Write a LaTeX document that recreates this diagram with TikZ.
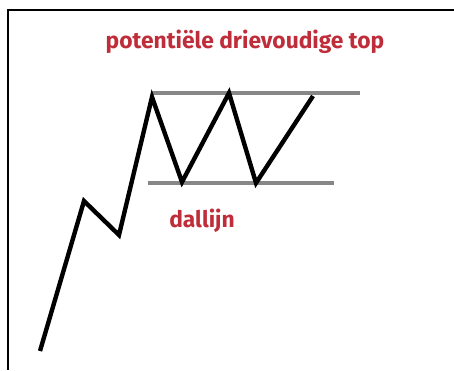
\documentclass[tikz,border=0pt]{standalone}
\usepackage{fontspec}
\setmainfont{Fira Sans}
\usetikzlibrary{positioning}
\definecolor{titlered}{RGB}{192,45,58}
\definecolor{linegray}{RGB}{135,135,135}

\begin{document}
\begin{tikzpicture}[x=0.5pt, y=-0.5pt,
  koers/.style={draw=black, line width=2.2pt, line join=miter},
  grens/.style={draw=linegray, line width=1.6pt},
  lbl/.style={font=\fontsize{11.4}{13}\selectfont\bfseries\color{titlered}, inner sep=0pt}
]
  \useasboundingbox (0,0) rectangle (454,370);
  % frame, only top and left edges
  \draw[line width=1pt] (454,10) -- (8,10) -- (8,370);

  % resistance and support lines
  \coordinate (ra) at (152,93);  \coordinate (rb) at (360,93);
  \coordinate (sa) at (148,183); \coordinate (sb) at (334,183);
  \draw[grens] (ra) -- (rb);
  \draw[grens] (sa) -- (sb);

  % price line
  \coordinate (k0) at (40,351);
  \coordinate (k1) at (84,201);
  \coordinate (k2) at (119,235);
  \coordinate (k3) at (152,97);
  \coordinate (k4) at (182,182);
  \coordinate (k5) at (229,93);
  \coordinate (k6) at (256,183);
  \coordinate (k7) at (313,96);
  \draw[koers] (k0) -- (k1) -- (k2) -- (k3) -- (k4) -- (k5) -- (k6) -- (k7);

  \node[lbl] (titel) at (245,42) {potentiële drievoudige top};
  \node[lbl] (dal) at (202,221) {dallijn};
\end{tikzpicture}
\end{document}
